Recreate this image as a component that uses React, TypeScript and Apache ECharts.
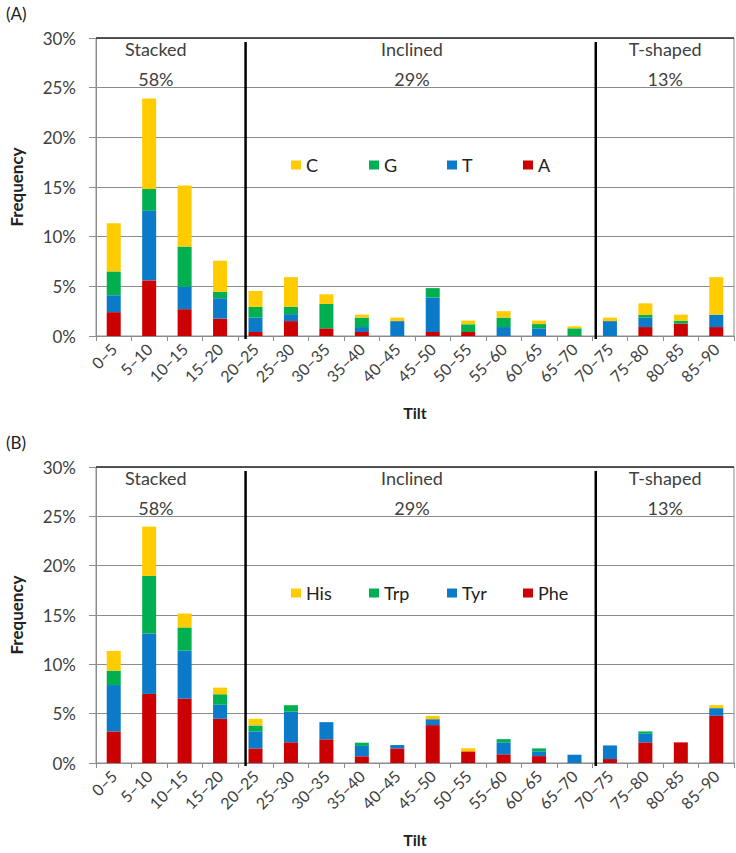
import React, { useEffect, useRef } from "react";
import * as echarts from "echarts";

const categories = ["0–5", "5–10", "10–15", "15–20", "20–25", "25–30", "30–35", "35–40", "40–45", "45–50", "50–55", "55–60", "60–65", "65–70", "70–75", "75–80", "80–85", "85–90"];
const yTicks = [0, 5, 10, 15, 20, 25, 30];

// Panel A (nucleobases), % frequency
const aA = [2.4, 5.6, 2.7, 1.75, 0.4, 1.5, 0.77, 0.4, 0, 0.4, 0.4, 0, 0, 0, 0, 0.9, 1.25, 0.9];
const aT = [1.7, 7.0, 2.25, 2.05, 1.45, 0.7, 0, 0.5, 1.5, 3.47, 0, 0.9, 0.77, 0, 1.5, 0.95, 0, 1.25];
const aG = [2.4, 2.2, 4.05, 0.65, 1.08, 0.73, 2.46, 0.95, 0, 0.95, 0.78, 0.95, 0.43, 0.77, 0, 0.27, 0.3, 0];
const aC = [4.85, 9.1, 6.15, 3.13, 1.6, 3.0, 0.97, 0.3, 0.35, 0, 0.37, 0.65, 0.35, 0.2, 0.35, 1.17, 0.6, 3.78];

// Panel B (amino acids), % frequency
const bPhe = [3.2, 7.0, 6.53, 4.48, 1.48, 2.1, 2.4, 0.68, 1.48, 3.84, 1.18, 0.88, 0.7, 0, 0.4, 2.09, 2.09, 4.78];
const bTyr = [4.7, 6.13, 4.85, 1.42, 1.72, 3.1, 1.74, 1.05, 0.34, 0.6, 0, 1.21, 0.48, 0.84, 1.38, 0.87, 0, 0.78];
const bTrp = [1.46, 5.83, 2.36, 1.07, 0.6, 0.66, 0, 0.33, 0, 0, 0, 0.33, 0.3, 0, 0, 0.24, 0, 0];
const bHis = [2.0, 5.0, 1.41, 0.67, 0.68, 0, 0, 0, 0, 0.34, 0.32, 0, 0, 0, 0, 0, 0, 0.3];

const namesA = ["A", "T", "G", "C"];
const namesB = ["Phe", "Tyr", "Trp", "His"];
const regionLabels = ["Stacked", "Inclined", "T-shaped"];
const regionShares = ["58%", "29%", "13%"];
const regionCenters = [2.04, 9.11, 16.1]; // in category units
const dividers = [4.22, 14.1]; // in category units

const COLORS = ["#CC0000", "#0B7BC9", "#00B050", "#FFCC00"];
const FONT = "Lato, 'Noto Sans', sans-serif";
const TXT = "#404040";
const LEGEND_X = [286, 364, 442, 518];

export default function App() {
  const ref = useRef<HTMLDivElement>(null);
  useEffect(() => {
    document.body.style.margin = "0";
    const chart = echarts.init(ref.current!, null, { renderer: "svg" });
    const grids = [
      { left: 82, right: 2, top: 38, height: 298 },
      { left: 82, right: 2, top: 467, height: 296 },
    ];
    const xCat = (gi: number) => ({
      type: "category",
      gridIndex: gi,
      data: categories,
      axisLine: { lineStyle: { color: "#8c8c8c" } },
      axisTick: { show: true, length: 5, lineStyle: { color: "#8c8c8c" } },
      axisLabel: { rotate: 45, color: TXT, fontSize: 16, fontFamily: FONT, margin: 10, interval: 0 },
      name: "Tilt",
      nameLocation: "middle",
      nameGap: 68,
      nameTextStyle: { fontWeight: "bold", fontSize: 16, color: "#222", fontFamily: FONT },
    });
    const xHelp = (gi: number) => ({ type: "value", gridIndex: gi, min: 0, max: 18, show: false });
    const yVal = (gi: number) => ({
      type: "value",
      gridIndex: gi,
      min: 0,
      max: 30,
      interval: 5,
      axisLine: { show: true, lineStyle: { color: "#8c8c8c" } },
      axisTick: { show: true, length: 7, lineStyle: { color: "#8c8c8c" } },
      axisLabel: { formatter: "{value}%", color: TXT, fontSize: 17, fontFamily: FONT, margin: 20 },
      splitLine: { lineStyle: { color: "#8c8c8c", width: 1 } },
      name: "Frequency",
      nameLocation: "middle",
      nameGap: 71,
      nameTextStyle: { fontWeight: "bold", fontSize: 17, color: "#222", fontFamily: FONT },
    });
    const barSeries = (names: string[], data: number[][], gi: number) =>
      names.map((n, i) => ({
        type: "bar",
        name: n,
        stack: "s" + gi,
        xAxisIndex: gi,
        yAxisIndex: gi,
        barWidth: 14,
        itemStyle: { color: COLORS[i] },
        data: data[i],
      }));
    const top = yTicks[yTicks.length - 1];
    const helperLines = (gi: number) => [
      ...dividers.map((d) => ({
        type: "line",
        xAxisIndex: 2 + gi,
        yAxisIndex: gi,
        data: [
          [d, 29.6],
          [d, -0.3],
        ],
        symbol: "none",
        silent: true,
        clip: false,
        z: 5,
        lineStyle: { color: "#000", width: 2.5 },
      })),
      {
        type: "line",
        xAxisIndex: 2 + gi,
        yAxisIndex: gi,
        data: [
          [0, top],
          [categories.length, top],
        ],
        symbol: "none",
        silent: true,
        clip: false,
        z: 5,
        lineStyle: { color: "#333", width: 1.5 },
      },
    ];
    const legends: any[] = [];
    [
      [namesA, 151],
      [namesB, 579],
    ].forEach(([names, t]: any) => {
      const order = (names as string[]).slice().reverse();
      order.forEach((n, i) => {
        legends.push({
          data: [n],
          left: LEGEND_X[i],
          top: t,
          icon: "rect",
          itemWidth: 10,
          itemHeight: 9,
          itemGap: 0,
          selectedMode: false,
          textStyle: { fontSize: 18, color: "#222", fontFamily: FONT },
        });
      });
    });
    const graphics: any[] = [
      { type: "text", x: 6, y: 5, style: { text: "(A)", font: `17px ${FONT}`, fill: "#222" } },
      { type: "text", x: 6, y: 434, style: { text: "(B)", font: `17px ${FONT}`, fill: "#222" } },
    ];
    [38, 467].forEach((gt) => {
      regionLabels.forEach((t, i) => {
        const cx = 82 + regionCenters[i] * (652 / 18);
        graphics.push({ type: "text", x: cx, y: gt + 11, style: { text: t, font: `18px ${FONT}`, fill: TXT, align: "center", verticalAlign: "middle" } });
        graphics.push({ type: "text", x: cx, y: gt + 41, style: { text: regionShares[i], font: `18px ${FONT}`, fill: TXT, align: "center", verticalAlign: "middle" } });
      });
    });
    chart.setOption({
      animation: false,
      backgroundColor: "#fff",
      grid: grids.map((g) => ({ ...g, show: true, borderColor: "#8c8c8c", borderWidth: 1 })),
      xAxis: [xCat(0), xCat(1), xHelp(0), xHelp(1)],
      yAxis: [yVal(0), yVal(1)],
      legend: legends,
      graphic: graphics,
      series: [
        ...barSeries(namesA, [aA, aT, aG, aC], 0),
        ...barSeries(namesB, [bPhe, bTyr, bTrp, bHis], 1),
        ...helperLines(0),
        ...helperLines(1),
      ],
    });
    return () => chart.dispose();
  }, []);
  return <div ref={ref} style={{ width: 736, height: 853 }} />;
}
